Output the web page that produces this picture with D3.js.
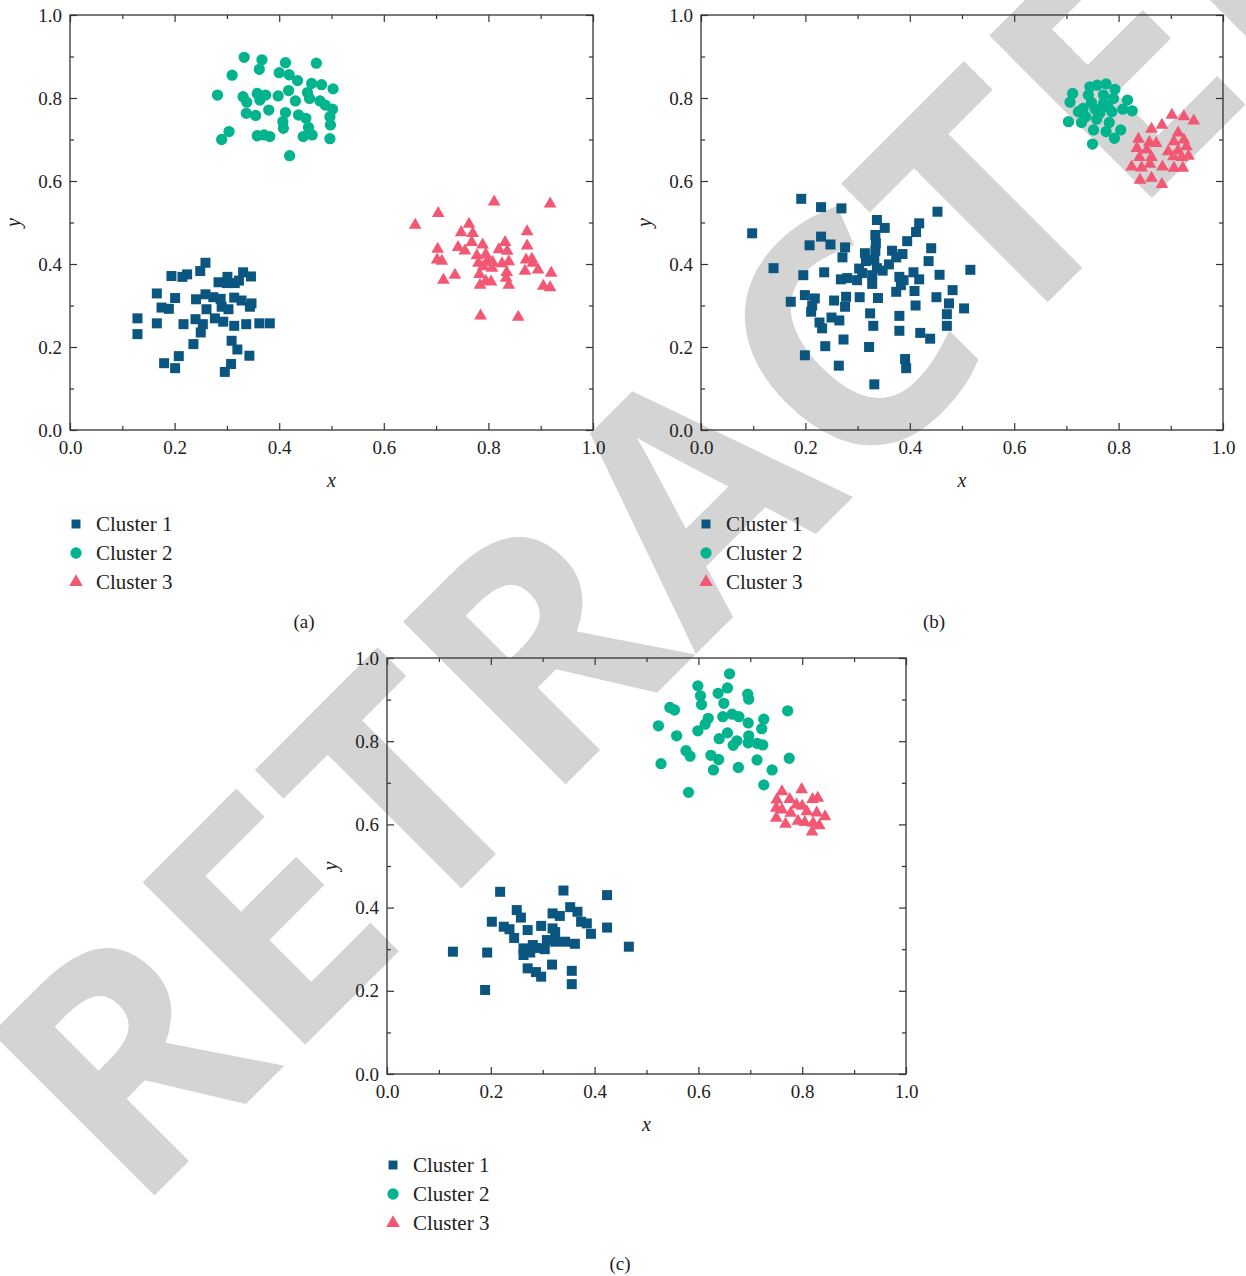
<!DOCTYPE html>
<html>
<head>
<meta charset="utf-8">
<script src="https://cdn.jsdelivr.net/npm/d3@7"></script>
<style>
  body { margin: 0; background: #fff; }
  text { font-family: "Liberation Serif", "DejaVu Serif", serif; fill: #222; }
</style>
</head>
<body>
<div id="chart"></div>
<script>
// cluster names and colours
const clusterNames = ["Cluster 1", "Cluster 2", "Cluster 3"];
const clusterColors = ["#0b5581", "#02b48d", "#f25774"];

const majorTicks = [0, 0.2, 0.4, 0.6, 0.8, 1.0];
const minorTicks = [0.1, 0.3, 0.5, 0.7, 0.9];

// (a) data, [x, y]
const a1 = [[0.259,0.403],[0.194,0.371],[0.215,0.369],[0.224,0.375],[0.249,0.383],[0.284,0.356],[0.301,0.369],[0.300,0.354],[0.315,0.354],[0.323,0.360],[0.331,0.380],[0.346,0.370],[0.166,0.329],[0.201,0.318],[0.241,0.315],[0.259,0.327],[0.274,0.320],[0.288,0.316],[0.314,0.319],[0.328,0.312],[0.347,0.305],[0.344,0.297],[0.175,0.295],[0.189,0.292],[0.261,0.291],[0.290,0.297],[0.303,0.291],[0.129,0.269],[0.166,0.257],[0.217,0.255],[0.240,0.267],[0.254,0.255],[0.277,0.269],[0.293,0.261],[0.314,0.251],[0.337,0.255],[0.362,0.257],[0.382,0.257],[0.129,0.231],[0.250,0.235],[0.236,0.207],[0.309,0.215],[0.320,0.194],[0.343,0.179],[0.208,0.178],[0.180,0.161],[0.201,0.149],[0.308,0.159],[0.296,0.140]];
const a2 = [[0.333,0.898],[0.367,0.892],[0.362,0.869],[0.412,0.885],[0.471,0.884],[0.310,0.855],[0.400,0.861],[0.419,0.856],[0.435,0.842],[0.462,0.835],[0.481,0.832],[0.503,0.822],[0.282,0.807],[0.331,0.803],[0.358,0.811],[0.374,0.807],[0.363,0.795],[0.398,0.805],[0.418,0.818],[0.454,0.813],[0.458,0.799],[0.431,0.793],[0.338,0.790],[0.478,0.793],[0.488,0.783],[0.502,0.773],[0.380,0.771],[0.337,0.763],[0.355,0.758],[0.412,0.765],[0.437,0.759],[0.451,0.751],[0.497,0.755],[0.407,0.743],[0.408,0.727],[0.456,0.729],[0.498,0.735],[0.304,0.719],[0.290,0.700],[0.358,0.709],[0.371,0.711],[0.382,0.707],[0.446,0.707],[0.463,0.711],[0.497,0.702],[0.420,0.661]];
const a3 = [[0.811,0.550],[0.918,0.545],[0.704,0.522],[0.660,0.494],[0.763,0.496],[0.748,0.476],[0.770,0.474],[0.874,0.478],[0.703,0.436],[0.742,0.440],[0.755,0.432],[0.768,0.452],[0.789,0.446],[0.832,0.452],[0.820,0.435],[0.836,0.431],[0.874,0.444],[0.702,0.410],[0.711,0.407],[0.778,0.420],[0.795,0.423],[0.781,0.402],[0.798,0.407],[0.808,0.404],[0.826,0.401],[0.839,0.406],[0.872,0.410],[0.883,0.412],[0.885,0.402],[0.790,0.394],[0.807,0.390],[0.870,0.383],[0.895,0.386],[0.736,0.373],[0.783,0.375],[0.835,0.380],[0.920,0.378],[0.714,0.361],[0.795,0.359],[0.805,0.357],[0.834,0.366],[0.784,0.349],[0.839,0.349],[0.905,0.347],[0.918,0.343],[0.785,0.275],[0.857,0.272]];

// (b)
const b1 = [[0.192,0.557],[0.230,0.537],[0.269,0.534],[0.453,0.526],[0.337,0.506],[0.352,0.487],[0.418,0.498],[0.412,0.477],[0.098,0.474],[0.230,0.466],[0.248,0.447],[0.208,0.445],[0.334,0.470],[0.335,0.450],[0.276,0.440],[0.395,0.455],[0.441,0.438],[0.334,0.432],[0.366,0.432],[0.314,0.426],[0.386,0.424],[0.271,0.416],[0.374,0.416],[0.316,0.407],[0.332,0.410],[0.436,0.407],[0.360,0.399],[0.139,0.390],[0.303,0.389],[0.337,0.390],[0.348,0.384],[0.236,0.380],[0.309,0.378],[0.407,0.380],[0.516,0.386],[0.196,0.373],[0.457,0.374],[0.328,0.373],[0.380,0.369],[0.280,0.366],[0.268,0.363],[0.299,0.361],[0.418,0.363],[0.388,0.361],[0.328,0.352],[0.383,0.349],[0.374,0.333],[0.409,0.335],[0.482,0.337],[0.199,0.325],[0.218,0.317],[0.278,0.321],[0.304,0.320],[0.339,0.318],[0.451,0.320],[0.172,0.309],[0.255,0.312],[0.213,0.300],[0.276,0.297],[0.475,0.305],[0.411,0.300],[0.504,0.293],[0.211,0.285],[0.324,0.281],[0.380,0.275],[0.471,0.279],[0.250,0.271],[0.265,0.264],[0.227,0.259],[0.232,0.245],[0.330,0.251],[0.471,0.251],[0.380,0.239],[0.420,0.234],[0.439,0.220],[0.273,0.218],[0.238,0.202],[0.322,0.200],[0.199,0.180],[0.391,0.171],[0.264,0.155],[0.393,0.149],[0.332,0.110]];
const b2 = [[0.776,0.834],[0.759,0.831],[0.745,0.827],[0.793,0.821],[0.712,0.811],[0.742,0.807],[0.771,0.807],[0.790,0.799],[0.817,0.795],[0.707,0.790],[0.748,0.789],[0.771,0.787],[0.732,0.775],[0.755,0.773],[0.780,0.778],[0.808,0.773],[0.826,0.769],[0.723,0.767],[0.764,0.763],[0.787,0.767],[0.737,0.755],[0.704,0.743],[0.729,0.741],[0.758,0.749],[0.782,0.741],[0.752,0.723],[0.776,0.719],[0.804,0.723],[0.792,0.703],[0.750,0.689]];
const b3 = [[0.902,0.759],[0.925,0.755],[0.944,0.745],[0.883,0.735],[0.863,0.725],[0.914,0.716],[0.838,0.701],[0.906,0.695],[0.925,0.699],[0.859,0.693],[0.872,0.691],[0.930,0.683],[0.835,0.679],[0.854,0.675],[0.895,0.671],[0.914,0.673],[0.840,0.657],[0.863,0.657],[0.905,0.659],[0.921,0.657],[0.934,0.660],[0.825,0.634],[0.844,0.632],[0.860,0.641],[0.884,0.634],[0.906,0.631],[0.923,0.631],[0.841,0.602],[0.863,0.607],[0.883,0.592]];

// (c)
const c1 = [[0.218,0.438],[0.340,0.441],[0.424,0.430],[0.250,0.394],[0.258,0.376],[0.319,0.386],[0.333,0.380],[0.353,0.401],[0.367,0.390],[0.374,0.366],[0.385,0.362],[0.202,0.366],[0.225,0.354],[0.236,0.348],[0.271,0.346],[0.297,0.356],[0.319,0.350],[0.324,0.341],[0.424,0.352],[0.393,0.337],[0.245,0.327],[0.308,0.322],[0.324,0.318],[0.343,0.318],[0.362,0.313],[0.281,0.310],[0.288,0.303],[0.304,0.300],[0.263,0.302],[0.276,0.292],[0.263,0.286],[0.127,0.294],[0.193,0.292],[0.466,0.306],[0.271,0.254],[0.287,0.245],[0.297,0.234],[0.318,0.263],[0.356,0.248],[0.356,0.216],[0.189,0.202]];
const c2 = [[0.660,0.962],[0.599,0.933],[0.656,0.928],[0.604,0.909],[0.638,0.915],[0.695,0.913],[0.697,0.901],[0.606,0.888],[0.649,0.891],[0.545,0.881],[0.554,0.875],[0.772,0.873],[0.619,0.855],[0.647,0.859],[0.665,0.865],[0.678,0.859],[0.613,0.841],[0.696,0.844],[0.726,0.853],[0.523,0.837],[0.599,0.825],[0.656,0.820],[0.722,0.830],[0.558,0.813],[0.640,0.806],[0.674,0.801],[0.667,0.790],[0.697,0.813],[0.696,0.796],[0.713,0.795],[0.724,0.791],[0.576,0.777],[0.584,0.764],[0.624,0.766],[0.639,0.756],[0.528,0.746],[0.629,0.731],[0.677,0.737],[0.713,0.755],[0.775,0.759],[0.742,0.731],[0.726,0.695],[0.581,0.677]];
const c3 = [[0.761,0.679],[0.799,0.684],[0.751,0.659],[0.776,0.660],[0.820,0.660],[0.830,0.663],[0.789,0.647],[0.750,0.639],[0.761,0.635],[0.800,0.644],[0.809,0.631],[0.828,0.628],[0.778,0.627],[0.750,0.615],[0.844,0.619],[0.792,0.608],[0.805,0.605],[0.768,0.601],[0.821,0.603],[0.833,0.597],[0.819,0.582]];

const W = 1246, H = 1276;

const svg = d3.select("#chart").append("svg")
    .attr("width", W)
    .attr("height", H);

// watermark sits behind everything, 45 degrees up from the lower left
svg.append("text")
    .attr("transform", "translate(134,1216) rotate(-45)")
    .attr("text-anchor", "start")
    .attr("textLength", 1830)
    .attr("lengthAdjust", "spacing")
    .style("font-family", "'Open Sans', 'Noto Sans', sans-serif")
    .style("font-weight", "bold")
    .style("font-size", "322px")
    .style("fill", "#d4d4d4")
    .text("RETRACTED");

const panels = [
    {data: [a1, a2, a3], left: 70, right: 593, top: 15, bottom: 430, tag: "(a)", tagX: 304, tagY: 628, legX: 76, legY: 524},
    {data: [b1, b2, b3], left: 701, right: 1223, top: 15, bottom: 430, tag: "(b)", tagX: 934, tagY: 628, legX: 706, legY: 524},
    {data: [c1, c2, c3], left: 387, right: 906, top: 658, bottom: 1074, tag: "(c)", tagX: 620, tagY: 1270, legX: 393, legY: 1165}
];

const symbols = [
    d3.symbol().type(d3.symbolSquare).size(100),
    d3.symbol().type(d3.symbolCircle).size(100),
    d3.symbol().type(d3.symbolTriangle).size(70)
];
const legendSymbols = [
    d3.symbol().type(d3.symbolSquare).size(80),
    d3.symbol().type(d3.symbolCircle).size(100),
    d3.symbol().type(d3.symbolTriangle).size(80)
];

function styleAxis(g) {
    g.select(".domain").remove();
    g.selectAll("line").attr("stroke", "#333").attr("stroke-width", 1.2);
    g.selectAll("text")
        .style("font-family", "'Liberation Serif', serif")
        .style("font-size", "19px")
        .attr("fill", "#222");
}

function drawPanel(p) {
    let x = d3.scaleLinear().domain([0, 1]).range([p.left, p.right]);
    let y = d3.scaleLinear().domain([0, 1]).range([p.bottom, p.top]);
    let g = svg.append("g");

    // ticks, all pointing inward
    g.append("g").attr("transform", "translate(0," + p.bottom + ")")
        .call(d3.axisBottom(x).tickValues(majorTicks).tickSize(-7).tickPadding(11).tickFormat(d3.format(".1f")))
        .call(styleAxis);
    g.append("g").attr("transform", "translate(0," + p.bottom + ")")
        .call(d3.axisBottom(x).tickValues(minorTicks).tickSize(-4).tickFormat(""))
        .call(styleAxis);
    g.append("g").attr("transform", "translate(0," + p.top + ")")
        .call(d3.axisTop(x).tickValues(majorTicks).tickSize(-7).tickFormat(""))
        .call(styleAxis);
    g.append("g").attr("transform", "translate(0," + p.top + ")")
        .call(d3.axisTop(x).tickValues(minorTicks).tickSize(-4).tickFormat(""))
        .call(styleAxis);
    g.append("g").attr("transform", "translate(" + p.left + ",0)")
        .call(d3.axisLeft(y).tickValues(majorTicks).tickSize(-7).tickPadding(8).tickFormat(d3.format(".1f")))
        .call(styleAxis);
    g.append("g").attr("transform", "translate(" + p.left + ",0)")
        .call(d3.axisLeft(y).tickValues(minorTicks).tickSize(-4).tickFormat(""))
        .call(styleAxis);
    g.append("g").attr("transform", "translate(" + p.right + ",0)")
        .call(d3.axisRight(y).tickValues(majorTicks).tickSize(-7).tickFormat(""))
        .call(styleAxis);
    g.append("g").attr("transform", "translate(" + p.right + ",0)")
        .call(d3.axisRight(y).tickValues(minorTicks).tickSize(-4).tickFormat(""))
        .call(styleAxis);

    // frame
    g.append("rect")
        .attr("x", p.left).attr("y", p.top)
        .attr("width", p.right - p.left).attr("height", p.bottom - p.top)
        .attr("fill", "none").attr("stroke", "#333").attr("stroke-width", 1.3);

    // axis titles
    g.append("text")
        .attr("x", (p.left + p.right) / 2).attr("y", p.bottom + 57)
        .attr("text-anchor", "middle")
        .style("font-style", "italic").style("font-size", "20px")
        .text("x");
    g.append("text")
        .attr("transform", "translate(" + (p.left - 50) + "," + ((p.top + p.bottom) / 2) + ") rotate(-90)")
        .attr("text-anchor", "middle")
        .style("font-style", "italic").style("font-size", "20px")
        .text("y");

    // points
    p.data.forEach(function(series, i) {
        g.append("g").selectAll("path")
            .data(series)
            .enter().append("path")
            .attr("d", symbols[i])
            .attr("transform", function(d) { return "translate(" + x(d[0]) + "," + y(d[1]) + ")"; })
            .attr("fill", clusterColors[i]);
    });

    // legend
    let leg = g.append("g");
    clusterNames.forEach(function(name, i) {
        let ly = p.legY + i * 29;
        leg.append("path")
            .attr("d", legendSymbols[i])
            .attr("transform", "translate(" + p.legX + "," + ly + ")")
            .attr("fill", clusterColors[i]);
        leg.append("text")
            .attr("x", p.legX + 20).attr("y", ly)
            .attr("dy", "0.35em")
            .style("font-size", "21px")
            .text(name);
    });

    // panel tag
    g.append("text")
        .attr("x", p.tagX).attr("y", p.tagY)
        .attr("text-anchor", "middle")
        .style("font-size", "19px")
        .text(p.tag);
}

panels.forEach(drawPanel);
</script>
</body>
</html>
